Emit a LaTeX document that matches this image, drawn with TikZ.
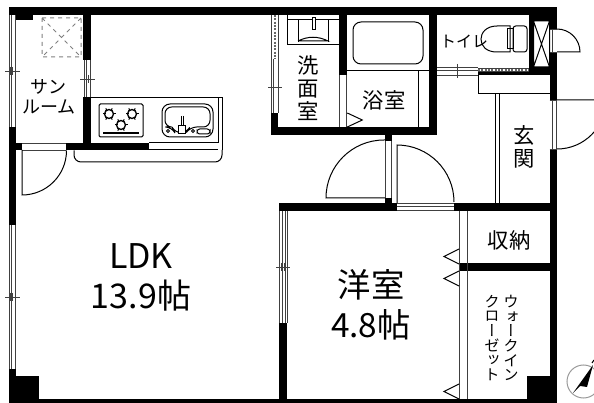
\documentclass[tikz,border=0pt]{standalone}
\usepackage{fontspec}
\setmainfont{Noto Sans CJK JP}
\newfontfamily\vertfont[RawFeature=+vert]{Noto Sans CJK JP}
\tikzset{every picture/.style={line width=0.75pt},
  wall/.style={fill=black,draw=none},
  thin line/.style={draw=black!75,line width=0.6pt},
  roomlabel/.style={inner sep=0pt,align=center,font=\fontsize{25.5pt}{30pt}\selectfont},
  smalllabel/.style={inner sep=0pt,align=center,font=\fontsize{16pt}{17.5pt}\selectfont},
  vertlabel/.style={inner sep=0pt,align=center,font=\vertfont\fontsize{11.5pt}{11pt}\selectfont},
}
\begin{document}
\begin{tikzpicture}[x=0.75pt,y=0.75pt,yscale=-1,xscale=1]
\useasboundingbox (0,0) rectangle (594,403);

%Walls
\fill[wall] (8.5,7) rectangle (557,15);
\fill[wall] (8.5,127) rectangle (16.3,225);
\fill[wall] (8.5,369) rectangle (16.3,403);
\fill[wall] (8.5,376) rectangle (39,403);
\fill[wall] (8.5,399) rectangle (557,403);
\fill[wall] (16,15) rectangle (33,20.5);
\fill[wall] (83,7) rectangle (91,60);
\fill[wall] (83,97) rectangle (91,150.5);
\fill[wall] (8.5,143) rectangle (22,150.5);
\fill[wall] (66,143) rectangle (149,150.5);
\fill[wall] (271,113) rectangle (278,135);
\fill[wall] (271,127) rectangle (437,135);
\fill[wall] (339,7) rectangle (347,75);
\fill[wall] (429,7) rectangle (437,135);
\fill[wall] (529,7) rectangle (557,21);
\fill[wall] (529,15) rectangle (533.5,75);
\fill[wall] (478,72) rectangle (557,75);
\fill[wall] (533,67) rectangle (557,75);
\fill[wall] (549.5,7) rectangle (557,29);
\fill[wall] (549.5,52) rectangle (557,100);
\fill[wall] (549.5,149) rectangle (557,403);
\fill[wall] (385,135) rectangle (392,141);
\fill[wall] (385,198) rectangle (392,211);
\fill[wall] (279,203) rectangle (397,211);
\fill[wall] (454,203) rectangle (557,211);
\fill[wall] (279,323) rectangle (287,403);
\fill[wall] (459,263) rectangle (557,271);
\fill[wall] (527,376) rectangle (557,403);

%Windows
\draw[thin line] (9,15) -- (9,127) (11,15) -- (11,127) (15.5,15) -- (15.5,127);
\draw[thin line] (5,71) -- (20,71) (10,67) -- (10,75) (12,67) -- (12,75);
\draw[thin line] (9,225) -- (9,369) (11,225) -- (11,369) (15.5,225) -- (15.5,369);
\draw[thin line] (5,297) -- (20,297) (10,293) -- (10,301) (12,293) -- (12,301);
\draw[thin line] (84,60) -- (84,97) (86,60) -- (86,97) (90.5,60) -- (90.5,97);
\draw[thin line] (80,79) -- (95,79) (86,75) -- (86,83) (88,75) -- (88,83);
\draw[thin line] (271.5,59) -- (271.5,113) (273.5,59) -- (273.5,113) (278,15) -- (278,113);
\draw[thin line] (268,87) -- (282,87);
\draw[black!60,line width=1.2pt,dash pattern=on 1.5pt off 1pt] (275,15) -- (275,59);
\draw[thin line] (271.5,15) -- (271.5,59);
\draw[thin line] (279.5,211) -- (279.5,323) (282,211) -- (282,323) (285,211) -- (285,323) (287,211) -- (287,323);
\draw[thin line] (276,267) -- (290,267) (281,263) -- (281,271) (284,263) -- (284,271);

%Door openings
\draw[thin line] (22,143.5) -- (66,143.5) (22,150) -- (66,150);
\draw[thin line] (339.5,75) -- (339.5,127) (346.5,75) -- (346.5,127);
\draw[thin line] (385.5,141) -- (385.5,198) (391.5,141) -- (391.5,198);
\draw[thin line] (397,203.5) -- (454,203.5) (397,206.5) -- (454,206.5) (397,210.5) -- (454,210.5);
\draw[thin line] (437,67.5) -- (478,67.5) (437,70) -- (478,70) (437,75) -- (478,75) (457,64) -- (457,78);
\draw[thin line] (478,68) -- (529,68) (478,71.5) -- (529,71.5);
\draw[black!60,dash pattern=on 1.5pt off 1pt,line width=1pt] (478,70) -- (529,70);
\draw[thin line] (549.5,29) -- (557,29) (549.5,52) -- (557,52) (552,29) -- (552,52);
\draw[thin line] (549.5,100) -- (557,100) (549.5,149) -- (557,149) (552,100) -- (552,149) (556.5,100) -- (556.5,149);

%Door leaves
\draw (22,150) -- (22,195) arc[start angle=90,end angle=0,radius=44.5];
\draw (385,198) -- (326,198) arc[start angle=180,end angle=270,radius=58] -- (385,140);
\draw (397,203) -- (397,145) arc[start angle=270,end angle=360,radius=57];
\draw (557,52) -- (580,52) arc[start angle=0,end angle=-90,radius=23];
\draw (557,100) -- (606,100) arc[start angle=0,end angle=90,radius=49];

%Kitchen
\draw (91,97.6) -- (222,97.6) -- (222,150);
\draw (218,97.6) -- (218,143) -- (149,143);
\draw (149,150) -- (218,150);
\draw (74,150.5) -- (74,155) arc[start angle=180,end angle=90,radius=7] -- (215,162) arc[start angle=90,end angle=0,radius=7] -- (222,150);
%Stove
\draw[rounded corners=1pt] (99,104) rectangle (143,137);
\draw[line width=1.5pt] (103,133) -- (139,133);
\foreach \bx/\by in {109/114,132/114,121/125} {
  \draw[line width=1pt] (\bx,\by) circle[radius=4.5];
  \foreach \a in {0,60,...,300}
    \draw (\bx,\by) ++(\a:3.5) -- ++(\a:3);
}
%Sink
\draw[rounded corners=6pt] (162,104) rectangle (213,137);
\draw[rounded corners=5pt] (165,107) -- (210,107) -- (210,127) -- (190,127) -- (186,133) -- (175,133) -- (172,127) -- (165,127) -- cycle;
\draw (181,116) -- (181,128) (183,116) -- (183,128);
\draw[fill=white] (178,126) rectangle (185,134);
\draw (168,131) circle[radius=1.5] (193,131) circle[radius=1.5];
\draw[rounded corners=2pt] (197,129) rectangle (210,134);

%Dashed hatch
\draw[black!50,dashed] (42,18) rectangle (81,57) (42,18) -- (81,57) (81,18) -- (42,57);

%Wash stand
\draw (287,15.5) -- (287,45) -- (339,45) (287,20) -- (339,20);
\draw (298,20) -- (298,42) (328,20) -- (328,42);
\draw (298,41) .. controls (308,36) and (318,36) .. (328,41) -- (298,41);
\draw[fill=white] (312,18) rectangle (315,30);

%Bath
\draw (347,71) -- (429,71);
\draw[rounded corners=6pt] (353,22) rectangle (423,64);
\draw (418,71) -- (418,127);
\draw (347.3,113) -- (362.3,120) -- (347.3,127);

%Toilet
\draw (510,26) -- (497,26) .. controls (486,26) and (481,33) .. (481,39) .. controls (481,46) and (486,52) .. (497,52) -- (510,52) -- cycle;
\draw (507,29) rectangle (513,49);
\draw[rounded corners=2pt] (513,26) rectangle (527,52);
\draw (533.5,21) rectangle (549.5,67) (533.5,21) -- (549.5,67) (549.5,21) -- (533.5,67);

%Entrance
\draw (478,75) -- (478,94) -- (550,94);
\draw (495,94) -- (495,203) (499,94) -- (499,203);

%Closet
\draw[thin line] (459,211) -- (459,399) (467,211) -- (467,399);
\foreach \ty in {249,271,384}
  \draw (459,\ty) -- (444,\ty+7.5) -- (459,\ty+15);

%Compass
\draw[black!40] (583.5,381.5) circle[radius=16.5];
\fill (573,393) -- (593,365) -- (587,387) -- (580,386) -- cycle;
\draw (592,363) -- (594,360);

%Labels
\node[smalllabel,font=\fontsize{13.5pt}{15pt}\selectfont] (sunroom) at (49,97) {サン\\ルーム};
\node[roomlabel] (ldk) at (141,277) {LDK\\13.9帖};
\node[roomlabel,font=\fontsize{25pt}{30pt}\selectfont] (yoshitsu) at (371,305) {洋室\\4.8帖};
\node[smalllabel] (bath) at (384,100.5) {浴室};
\node[smalllabel] (storage) at (509,240) {収納};
\node[smalllabel] (wash) at (308,88) {洗\\面\\室};
\node[smalllabel] (entrance) at (524.5,147) {玄\\関};
\node[inner sep=0pt,font=\fontsize{12pt}{14pt}\selectfont] (toilet) at (464,41) {トイレ};
\node[vertlabel] (closet) at (492,338) {ク\\ロ\\ー\\ゼ\\ッ\\ト};
\node[vertlabel] (walkin) at (511,338) {ウ\\ォ\\ー\\ク\\イ\\ン};
\end{tikzpicture}
\end{document}
